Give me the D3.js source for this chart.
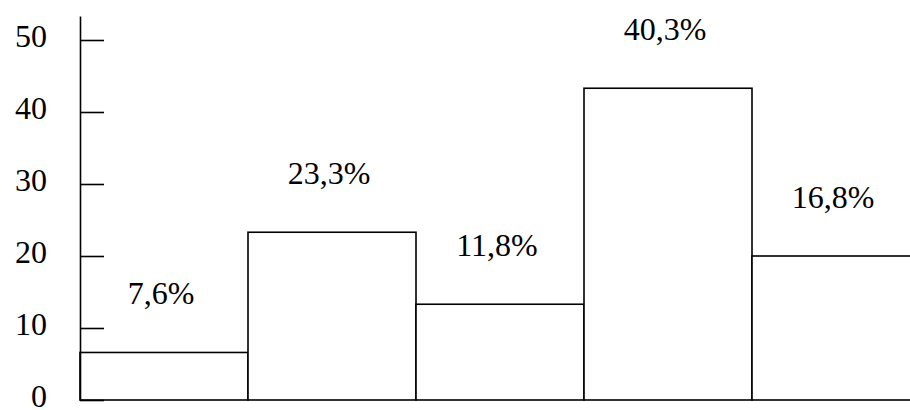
<!DOCTYPE html>
<html>
<head>
<meta charset="utf-8">
<script src="https://cdn.jsdelivr.net/npm/d3@7"></script>
<style>
  html, body { margin: 0; padding: 0; background: #fff; }
  svg { display: block; }
</style>
</head>
<body>
<svg id="chart" width="910" height="410"></svg>
<script>
// Data
const categories = ["A", "B", "C", "D", "E"];
const values = [6.6, 23.3, 13.3, 43.3, 20.0];
const valueLabels = ["7,6%", "23,3%", "11,8%", "40,3%", "16,8%"];
const tickValues = [0, 10, 20, 30, 40, 50];

const FONT = '"Liberation Serif"';

const svg = d3.select("#chart");
const left = 80, bottom = 400;

const x = d3.scaleBand().domain(categories).range([left, left + 5 * 168]).padding(0);
const y = d3.scaleLinear().domain([0, 160 / 3]).range([bottom, 16]);

const stroke = 1.6;

// Bars
svg.append("g")
  .selectAll("rect")
  .data(values)
  .join("rect")
  .attr("x", (d, i) => x(categories[i]))
  .attr("y", d => y(d))
  .attr("width", x.bandwidth())
  .attr("height", d => y(0) - y(d))
  .attr("fill", "#fff")
  .attr("stroke", "#000")
  .attr("stroke-width", stroke);

// Value labels
svg.append("g")
  .selectAll("text")
  .data(values)
  .join("text")
  .attr("x", (d, i) => x(categories[i]) + x.bandwidth() / 2 - 3)
  .attr("y", d => y(d) - 48)
  .attr("text-anchor", "middle")
  .style("font-family", FONT)
  .style("font-size", "32px")
  .style("fill", "#000")
  .text((d, i) => valueLabels[i]);

// Y axis
const yAxis = d3.axisLeft(y)
  .tickValues(tickValues)
  .tickFormat(d3.format("d"))
  .tickSizeInner(-24)
  .tickSizeOuter(0)
  .tickPadding(33);

const ag = svg.append("g")
  .attr("transform", `translate(${left},0)`)
  .call(yAxis);
ag.attr("font-family", null).attr("font-size", null);
ag.select(".domain").attr("stroke", "#000").attr("stroke-width", stroke);
ag.selectAll(".tick line").attr("stroke", "#000").attr("stroke-width", stroke);
ag.selectAll(".tick text")
  .style("font-family", FONT)
  .style("font-size", "32px")
  .style("fill", "#000")
  .attr("dy", "0.2em");
</script>
</body>
</html>
